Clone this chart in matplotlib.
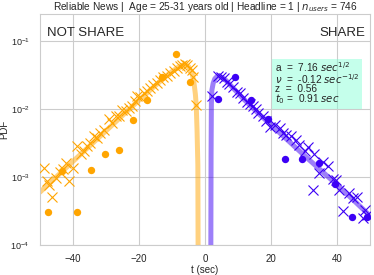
import numpy as np
import matplotlib.pyplot as plt
import seaborn as sns

sns.set_style("whitegrid")
plt.rcParams['font.family'] = ['Liberation Sans', 'DejaVu Sans']

# fitted curves
t_fit_ns = [-1.95, -2.1, -2.15, -2.4, -2.65, -2.9, -3.4, -3.9, -4.9, -5.9, -6.9, -7.9,
            -10.9, -15.9, -20.9, -30.9, -40.9, -50.0]
pdf_fit_ns = [1e-6, 2e-4, 1.5e-3, 5e-3, 0.0115, 0.0165, 0.026, 0.033, 0.042, 0.0447, 0.0441,
              0.042, 0.0331, 0.0204, 0.0123, 0.00436, 0.00155, 0.0006]
t_fit_sh = [1.7, 1.8, 1.85, 1.95, 2.1, 2.5, 3.0, 3.9, 5.0, 6.0, 8.0, 11.0, 16.0, 21.0,
            31.0, 41.0, 50.0]
pdf_fit_sh = [1e-6, 2e-4, 2e-3, 0.012, 0.019, 0.024, 0.028, 0.031, 0.0295, 0.0275, 0.0217,
              0.0152, 0.0088, 0.0053, 0.0019, 0.0007, 0.00027]

# observed data, circles
t_dot_ns = [-47.5, -43.2, -38.8, -34.6, -30.2, -26.0, -21.7, -17.5, -13.1, -8.8, -4.6]
pdf_dot_ns = [3.1e-4, 1.23e-3, 3.1e-4, 1.25e-3, 2.2e-3, 2.5e-3, 6.9e-3, 0.0137, 0.0295, 0.065, 0.025]
t_dot_sh = [4.0, 9.0, 14.0, 19.1, 24.2, 29.5, 34.5, 39.5, 44.6, 49.0]
pdf_dot_sh = [0.0141, 0.0295, 0.0134, 0.0071, 0.00186, 0.00186, 0.0016, 0.00079, 0.00026, 0.00026]

# observed data, crosses
t_x_ns = [-48.8, -48.0, -47.2, -46.5, -45.2, -44.0, -43.0, -42.2, -41.2, -39.9, -38.7, -37.7,
          -36.8, -35.9, -34.8, -33.7, -32.7, -31.7, -30.5, -29.2, -28.1, -27.1, -26.1, -25.1,
          -24.0, -23.0, -22.1, -21.2, -20.6, -19.6, -18.6, -17.6, -16.6, -15.6, -14.6, -13.6,
          -12.6, -11.6, -10.6, -9.5, -8.5, -7.5, -7.0, -6.0, -5.5, -4.6, -4.0, -3.6, -2.6]
pdf_x_ns = [0.00135, 0.00087, 0.00076, 0.00051, 0.00098, 0.0012, 0.0013, 0.0016, 0.00087,
            0.00135, 0.0029, 0.0022, 0.0024, 0.0029, 0.0032, 0.0040, 0.0038, 0.0045, 0.0050,
            0.0071, 0.0063, 0.0079, 0.0079, 0.0098, 0.0095, 0.0105, 0.011, 0.0132, 0.0155,
            0.0148, 0.017, 0.0186, 0.0204, 0.0229, 0.024, 0.0269, 0.030, 0.031, 0.034, 0.036,
            0.040, 0.043, 0.045, 0.046, 0.045, 0.040, 0.038, 0.030, 0.0115]
t_x_sh = [2.1, 4.1, 5.0, 5.9, 6.8, 7.4, 8.5, 9.6, 10.6, 11.6, 12.6, 13.6, 14.6, 15.4, 16.1,
          17.6, 18.6, 19.6, 21.1, 22.6, 23.6, 24.6, 26.1, 27.6, 28.6, 30.2, 31.2, 32.7, 33.2,
          34.7, 35.7, 37.2, 38.7, 39.7, 40.7, 41.9, 43.7, 45.0, 46.2, 47.8, 48.5, 49.2]
pdf_x_sh = [0.0155, 0.031, 0.030, 0.029, 0.025, 0.023, 0.021, 0.018, 0.0174, 0.0145, 0.0129,
            0.012, 0.011, 0.010, 0.0087, 0.0078, 0.0066, 0.0055, 0.0059, 0.0052, 0.0044,
            0.0042, 0.0040, 0.0035, 0.0030, 0.0024, 0.0028, 0.00065, 0.0022, 0.00115, 0.00166,
            0.00145, 0.00093, 0.00091, 0.00065, 0.00032, 0.00058, 0.0005, 0.00051, 0.00025,
            0.00033, 0.00028]

orange = '#FFA500'
blue = '#3C00F5'

fig = plt.figure(figsize=(3.74, 2.75), dpi=100)
ax = fig.add_axes([0.107, 0.109, 0.882, 0.84])

ax.plot(t_fit_ns, pdf_fit_ns, color=orange, alpha=0.5, lw=3.6, zorder=2)
ax.plot(t_fit_sh, pdf_fit_sh, color=blue, alpha=0.5, lw=3.6, zorder=2)
ax.plot(t_x_ns, pdf_x_ns, 'x', color=orange, ms=6.5, mew=0.8, zorder=3)
ax.plot(t_x_sh, pdf_x_sh, 'x', color=blue, ms=6.5, mew=0.8, zorder=3)
ax.plot(t_dot_ns, pdf_dot_ns, 'o', color=orange, ms=5.3, mew=0, zorder=4)
ax.plot(t_dot_sh, pdf_dot_sh, 'o', color=blue, ms=5.3, mew=0, zorder=4)

ax.set_yscale('log')
ax.set_xlim(-50, 50)
ax.set_ylim(1e-4, 0.25)
ax.set_xticks([-40, -20, 0, 20, 40])
ax.tick_params(axis='y', labelsize=6.5, pad=4)
ax.tick_params(axis='x', labelsize=7, pad=3)
ax.set_xlabel('t (sec)', fontsize=7, labelpad=1)
ax.set_ylabel('PDF', fontsize=7)
ax.yaxis.set_label_coords(-0.092, 0.5)
ax.set_title(r'Reliable News |  Age = 25-31 years old | Headline = 1 | $n_{users}$ = 746',
             fontsize=7.3, pad=3)

ax.text(0.02, 0.945, 'NOT SHARE', transform=ax.transAxes, fontsize=9.5, va='top')
ax.text(0.985, 0.945, 'SHARE', transform=ax.transAxes, fontsize=9.5, va='top', ha='right')

params = ('a  =  7.16 $sec^{1/2}$\n'
          r'$\nu$  =  -0.12 $sec^{-1/2}$' '\n'
          'z  =  0.56\n'
          '$t_0$ =  0.91 $sec$   ')
ax.text(0.712, 0.80, params, transform=ax.transAxes, fontsize=7.3, va='top', ha='left',
        linespacing=0.82, clip_on=False,
        bbox=dict(boxstyle='square,pad=0.25', facecolor='#7FFFD4', alpha=0.45, edgecolor='none'))

fig.savefig('out.png', dpi=100)
